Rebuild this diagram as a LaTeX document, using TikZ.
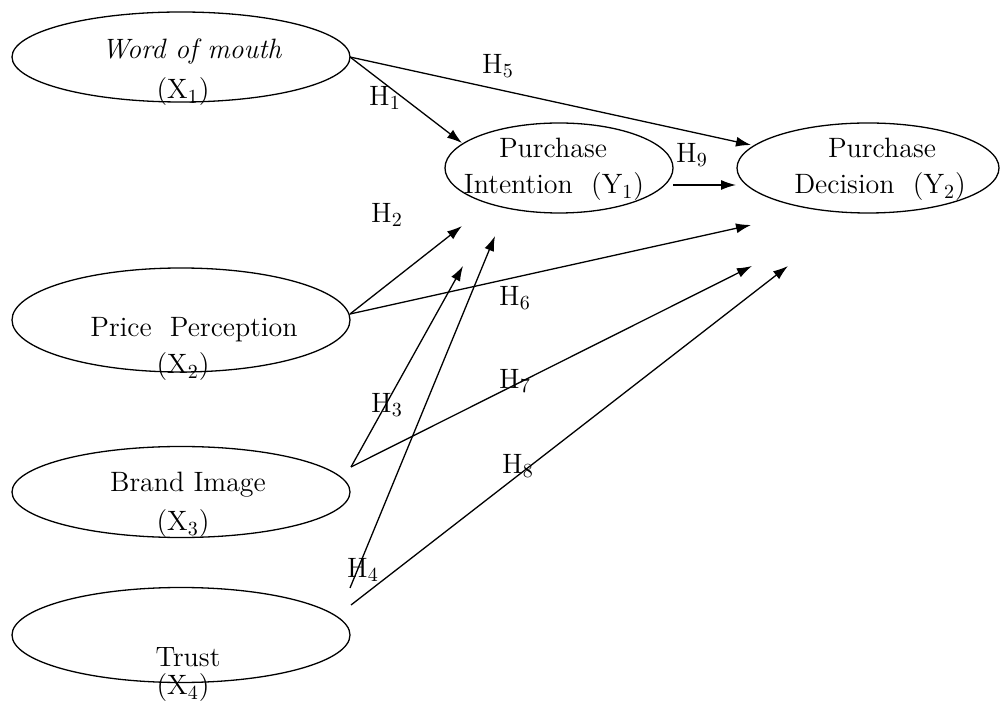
\documentclass[tikz,border=0pt]{standalone}
\usepackage{amsmath}
\usetikzlibrary{positioning, arrows.meta, shapes.geometric}

\begin{document}
\begin{tikzpicture}[x=0.5pt, y=-0.5pt, >={Latex[length=7.5pt,width=5pt]}, line width=0.65pt,
  var/.style 2 args={draw, ellipse, inner sep=0pt, minimum width=#1, minimum height=#2},
  lbl/.style={inner sep=0pt, font=\fontsize{14}{16}\selectfont}]
  \useasboundingbox (0,0) rectangle (1000,704);

  % Define variables
  \node [var={169pt}{45pt}] (wom) at (181,57) {};
  \node [var={169pt}{52pt}] (price) at (181,320) {};
  \node [var={169pt}{45.5pt}] (brand) at (181,492) {};
  \node [var={169pt}{47.5pt}] (trust) at (181,635) {};
  \node [var={114pt}{45pt}] (intent) at (559,168) {};
  \node [var={131pt}{45pt}] (decision) at (868,168) {};

  % Texts of the variables
  \node [lbl] (wom1) at (192,52) {\textit{Word of mouth}};
  \node [lbl] (wom2) at (183,92) {(X$_1$)};
  \node [lbl] (price1) at (194,330) {Price\ \ Perception};
  \node [lbl] (price2) at (183,367) {(X$_2$)};
  \node [lbl] (brand1) at (188,485) {Brand Image};
  \node [lbl] (brand2) at (183,524) {(X$_3$)};
  \node [lbl] (trust1) at (188,657) {Trust};
  \node [lbl] (trust2) at (183,688) {(X$_4$)};
  \node [lbl] (intent1) at (553,148) {Purchase};
  \node [lbl] (intent2) at (554,187) {Intention\ \ (Y$_1$)};
  \node [lbl] (decision1) at (882,148) {Purchase};
  \node [lbl] (decision2) at (880,187) {Decision\ \ (Y$_2$)};

  % Ends of the paths
  \coordinate (womout) at (350,57);
  \coordinate (priceout) at (350,314);
  \coordinate (brandout) at (351,467);
  \coordinate (trustouta) at (350,588);
  \coordinate (trustoutb) at (351,605);
  \coordinate (intentout) at (673,185);
  \coordinate (in1) at (462,143);
  \coordinate (in2) at (462,226);
  \coordinate (in3) at (463,266);
  \coordinate (in4) at (495,236);
  \coordinate (in5) at (751,145);
  \coordinate (in6) at (751,225);
  \coordinate (in7) at (752,266);
  \coordinate (in8) at (788,266);
  \coordinate (in9) at (736,185);

  % Connect with right arrows
  \draw [->] (womout) -- (in1);
  \draw [->] (womout) -- (in5);
  \draw [->] (priceout) -- (in2);
  \draw [->] (priceout) -- (in6);
  \draw [->] (brandout) -- (in3);
  \draw [->] (brandout) -- (in7);
  \draw [->] (trustouta) -- (in4);
  \draw [->] (trustoutb) -- (in8);
  \draw [->] (intentout) -- (in9);

  % Hypotheses
  \node [lbl] (h1) at (385,98) {H$_1$};
  \node [lbl] (h2) at (387,215) {H$_2$};
  \node [lbl] (h3) at (387,405) {H$_3$};
  \node [lbl] (h4) at (363,570) {H$_4$};
  \node [lbl] (h5) at (498,66) {H$_5$};
  \node [lbl] (h6) at (515,298) {H$_6$};
  \node [lbl] (h7) at (515,381) {H$_7$};
  \node [lbl] (h8) at (518,466) {H$_8$};
  \node [lbl] (h9) at (692,155) {H$_9$};
\end{tikzpicture}
\end{document}
